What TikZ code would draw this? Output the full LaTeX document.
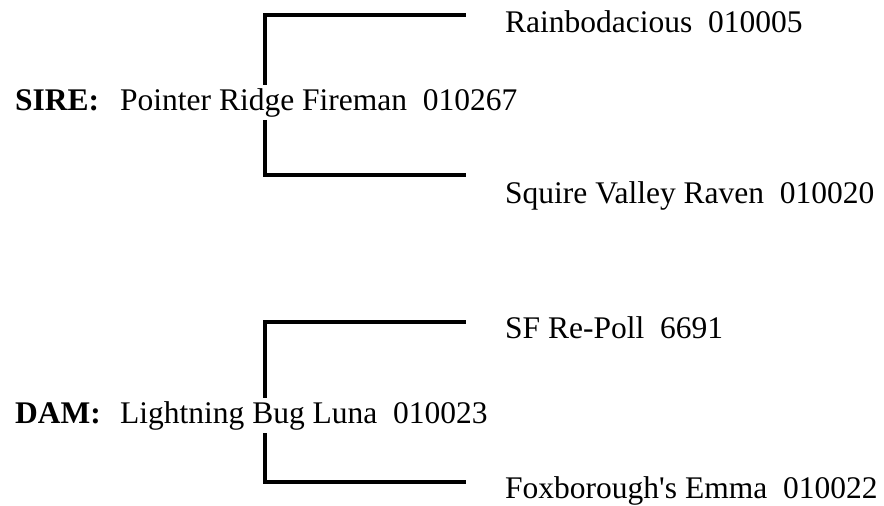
\documentclass[tikz,border=0pt]{standalone}
\usepackage{fontspec}
\setmainfont{Liberation Serif}[Ligatures=TeXOff]
\usetikzlibrary{positioning}

\begin{document}
\begin{tikzpicture}[x=1pt,y=-1pt,
    every node/.style={font=\fontsize{31.5}{37}\selectfont},
    parent_label/.style ={anchor=base west, inner sep=3pt,
      font=\fontsize{31.5}{37}\selectfont\bfseries},
    parent_name/.style ={anchor=base west, inner sep=3pt},
    child_name/.style ={anchor=base west, inner sep=3pt},
    line/.style ={draw, line width=3.6pt}]
    \useasboundingbox (0,0) rectangle (884,506);
    % sire side
    \node [parent_label] (sire) at (12,110) {SIRE:};
    \node [parent_name] (sname) at (117,110) {Pointer Ridge Fireman\ \ 010267};
    \node [child_name] (sire_a) at (502,32) {Rainbodacious\ \ 010005};
    \node [child_name] (sire_b) at (502,203) {Squire Valley Raven\ \ 010020};
    % dam side
    \node [parent_label] (dam) at (12,423) {DAM:};
    \node [parent_name] (dname) at (117,423) {Lightning Bug Luna\ \ 010023};
    \node [child_name] (dam_a) at (502,338) {SF Re-Poll\ \ 6691};
    \node [child_name] (dam_b) at (502,498) {Foxborough's Emma\ \ 010022};
    % bracket corners
    \coordinate (sire_fork) at (265,110);
    \coordinate (sire_top) at (466,15);
    \coordinate (sire_bot) at (466,175);
    \coordinate (dam_fork) at (265,423);
    \coordinate (dam_top) at (466,322);
    \coordinate (dam_bot) at (466,482);
    % connecting the brackets
    \begin{scope}[every path/.style=line]
      \path (sname.north -| sire_fork) |- (sire_top);
      \path (sname.south -| sire_fork) |- (sire_bot);
      \path (dname.north -| dam_fork) |- (dam_top);
      \path (dname.south -| dam_fork) |- (dam_bot);
    \end{scope}
  \end{tikzpicture}
\end{document}
